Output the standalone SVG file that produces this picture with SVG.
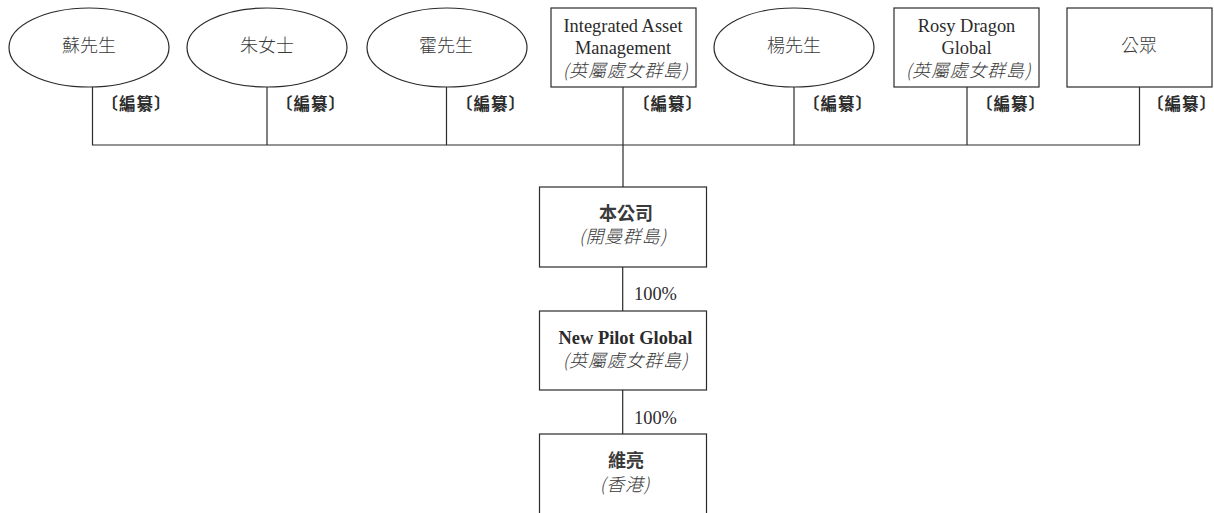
<svg xmlns="http://www.w3.org/2000/svg" width="1214" height="513" viewBox="0 0 1214 513">
<style>
.s{fill:#fff;stroke:#2b2b2b;stroke-width:1.2}
.c{fill:none;stroke:#2b2b2b;stroke-width:1.2}
text{font-family:"Liberation Serif","Noto Sans CJK TC",serif;fill:#2b2b2b;font-size:18.4px}
.m{text-anchor:middle}
.z{font-size:18px;font-weight:300;fill:#3a3a3a}
.b{font-weight:700}
.l{font-family:"Noto Sans CJK TC",serif;font-size:16.500px;font-weight:700;letter-spacing:1px}
.e{letter-spacing:-8px}
.i{font-family:"Noto Sans CJK TC",serif;font-size:18px;font-style:italic;font-weight:300;fill:#3a3a3a;letter-spacing:.8px}
</style>
<g id="connectors">
<path class="c" d="M92.500 87V145H1139.500V87M267 87V145M446.500 87V145M623 87V187M794 87V145M967 87V145M622.700 267V311M622.700 390V434"/>
</g>
<g id="n1"><ellipse class="s" cx="89" cy="47.500" rx="80" ry="39.500"/><text class="z m" x="89" y="51.500">蘇先生</text></g>
<g id="n2"><ellipse class="s" cx="267" cy="47.500" rx="80" ry="39.500"/><text class="z m" x="267" y="51.500">朱女士</text></g>
<g id="n3"><ellipse class="s" cx="447" cy="47.500" rx="80" ry="39.500"/><text class="z m" x="446" y="51.500">霍先生</text></g>
<g id="n4"><rect class="s" x="551" y="8" width="145" height="79"/><text class="m" x="623" y="31.500">Integrated Asset</text><text class="m" x="623" y="54">Management</text><text class="i m" x="625.500" y="77">(英屬處女群島)</text></g>
<g id="n5"><ellipse class="s" cx="794" cy="47.500" rx="80" ry="39.500"/><text class="z m" x="794" y="51.500">楊先生</text></g>
<g id="n6"><rect class="s" x="894" y="8" width="145" height="79"/><text class="m" x="966.500" y="31.500">Rosy Dragon</text><text class="m" x="966.500" y="54">Global</text><text class="i m" x="968.500" y="77">(英屬處女群島)</text></g>
<g id="n7"><rect class="s" x="1067" y="8" width="145" height="79"/><text class="z m" x="1139" y="51.500">公眾</text></g>
<g id="n8"><rect class="s" x="539.500" y="187" width="167" height="80"/><text class="z b m" x="626" y="219.500">本公司</text><text class="i m" x="623" y="242.500">(開曼群島)</text></g>
<g id="n9"><rect class="s" x="539.500" y="311" width="167" height="79"/><text class="b m" x="625.500" y="344">New Pilot Global</text><text class="i m" x="625.500" y="367">(英屬處女群島)</text></g>
<g id="n10"><rect class="s" x="539.500" y="434" width="167" height="90"/><text class="z b m" x="626" y="467">維亮</text><text class="i m" x="625" y="490.500">(香港)</text></g>
<g id="labels">
<text class="l" x="101.500" y="109.500">〔編纂<tspan class="e">〕</tspan></text>
<text class="l" x="276" y="109.500">〔編纂<tspan class="e">〕</tspan></text>
<text class="l" x="456" y="109.500">〔編纂<tspan class="e">〕</tspan></text>
<text class="l" x="633" y="109.500">〔編纂<tspan class="e">〕</tspan></text>
<text class="l" x="803" y="109.500">〔編纂<tspan class="e">〕</tspan></text>
<text class="l" x="976" y="109.500">〔編纂<tspan class="e">〕</tspan></text>
<text class="l" x="1147" y="109.500">〔編纂<tspan class="e">〕</tspan></text>
<text x="634" y="300">100%</text>
<text x="634" y="424">100%</text>
</g>
</svg>
